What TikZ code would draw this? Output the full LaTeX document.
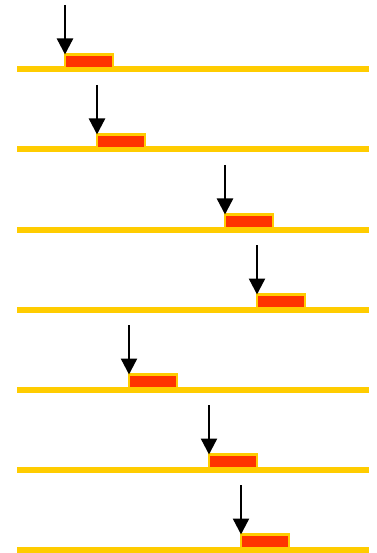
\documentclass[tikz,border=0pt]{standalone}
\usetikzlibrary{arrows.meta}
\definecolor{railyellow}{HTML}{FFCC00}
\definecolor{blockred}{HTML}{FF3300}
\tikzset{
  rail/.style={draw=railyellow, line width=6pt},
  block/.style={draw=railyellow, fill=blockred, line width=2.4pt, inner sep=0pt, outer sep=0pt,
                minimum width=48pt, minimum height=14pt, rectangle},
  pointer/.style={draw=black, line width=2.4pt, -{Triangle[width=16pt, length=16pt]}},
}
\begin{document}
\begin{tikzpicture}[x=1pt, y=-1pt]
  \useasboundingbox (0,0) rectangle (376,553);
  % each row: rail, block resting on the rail, pointer down onto the block's left corner
  \foreach \i/\bx in {0/65, 1/97, 2/225, 3/257, 4/129, 5/209, 6/241} {
    \pgfmathsetmacro{\ry}{69.5+80*\i}
    \coordinate (l\i) at (17,\ry);
    \coordinate (r\i) at (369,\ry);
    \draw[rail] (l\i) -- (r\i);
    \node[block] (b\i) at (\bx+24, \ry-8) {};
    \coordinate (a\i) at (\bx, {5+80*\i});
    \draw[pointer] (a\i) -- (b\i.north west);
  }
\end{tikzpicture}
\end{document}
